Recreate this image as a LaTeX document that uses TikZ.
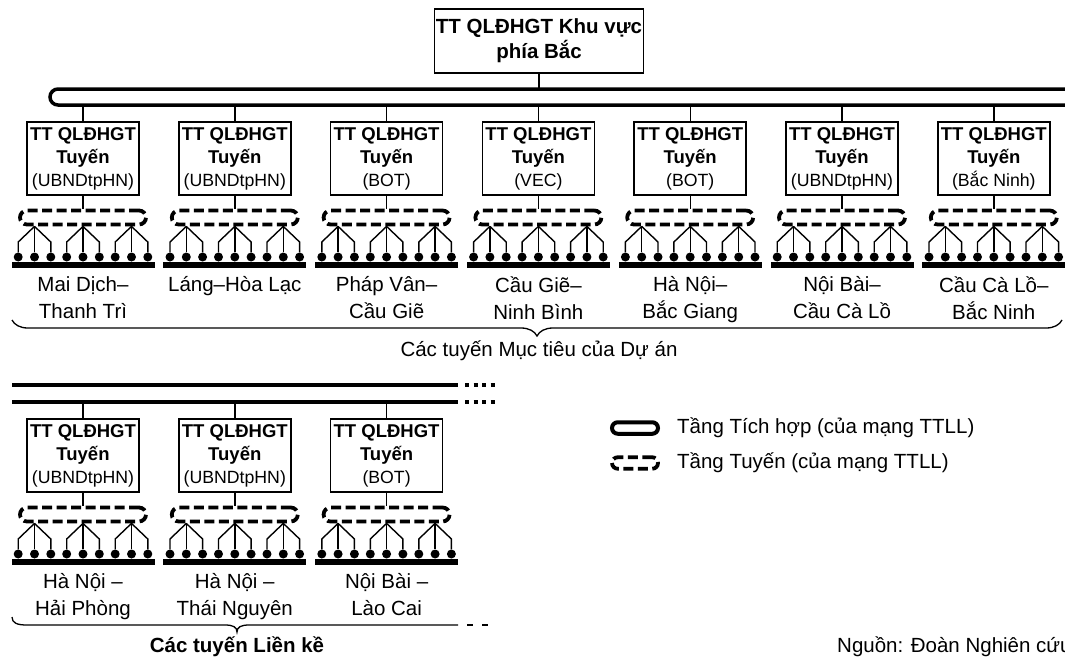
\documentclass[tikz,border=0pt]{standalone}
\usepackage{fontspec}
\setmainfont{Liberation Sans}
\usetikzlibrary{positioning,decorations.pathreplacing}

\begin{document}
\begin{tikzpicture}[
    x=1pt,y=-1pt,
    node distance=17pt,
    hub/.style={draw,line width=1.5pt,minimum width=209pt,minimum height=64pt,inner sep=0pt,align=center,font=\fontsize{20.5}{25}\selectfont\bfseries},
    ctr/.style={draw,line width=1.5pt,minimum width=112pt,minimum height=73pt,inner sep=0pt,align=center,font=\fontsize{18.5}{23}\selectfont},
    layer/.style={draw,dash pattern=on 10pt off 4.5pt,line width=3.8pt,rounded corners=7pt,minimum width=126pt,minimum height=14pt,inner sep=0pt},
    pill/.style={draw,line width=4pt,rounded corners=5.75pt,minimum width=46pt,minimum height=11.5pt,inner sep=0pt},
    dot/.style={circle,fill,inner sep=0pt,minimum size=9pt},
    bar/.style={fill,inner sep=0pt,minimum width=143pt,minimum height=6pt},
    wire/.style={line width=1.4pt},
    bus/.style={line width=3.5pt},
    lbl/.style={align=center,inner sep=0pt,font=\fontsize{20.5}{27}\selectfont},
    brc/.style={line width=1.3pt}
]
\useasboundingbox (0,0) rectangle (1065,657);

% khu vuc phia Bac
\node[hub] (hub) at (539,41) {TT QLĐHGT Khu vực\\phía Bắc};
\coordinate (busA) at (0,89);
\coordinate (busB) at (0,105);
\coordinate (busC) at (0,385);
\coordinate (busD) at (0,402);
\draw[bus] (1070,89) -- (58,89) arc[start angle=270,end angle=90,radius=8] -- (1070,105);
\draw[wire] (hub) -- (hub |- busA);

% tuyen lien ke
\draw[bus] (12,385) -- (458,385);
\draw[bus] (12,402) -- (458,402);
\draw[bus,dash pattern=on 4pt off 4.5pt] (465,385) -- (495,385);
\draw[bus,dash pattern=on 4pt off 4.5pt] (465,402) -- (495,402);

% cac tuyen
\foreach \n/\x/\dy/\bus/\who/\name in {
    1/83/0/busB/UBNDtpHN/{Mai Dịch–\\Thanh Trì},
    2/234.8/0/busB/UBNDtpHN/{Láng–Hòa Lạc},
    3/386.6/0/busB/BOT/{Pháp Vân–\\Cầu Giẽ},
    4/538.4/0/busB/VEC/{Cầu Giẽ–\\Ninh Bình},
    5/690.2/0/busB/BOT/{Hà Nội–\\Bắc Giang},
    6/842/0/busB/UBNDtpHN/{Nội Bài–\\Cầu Cà Lồ},
    7/993.8/0/busB/Bắc Ninh/{Cầu Cà Lồ–\\Bắc Ninh},
    8/83/297/busD/UBNDtpHN/{Hà Nội –\\Hải Phòng},
    9/234.8/297/busD/UBNDtpHN/{Hà Nội –\\Thái Nguyên},
    10/386.6/297/busD/BOT/{Nội Bài –\\Lào Cai}} {
  \node[ctr] (c\n) at (\x,158.5+\dy) {\textbf{TT QLĐHGT}\\\textbf{Tuyến}\\{\fontsize{17.7}{23}\selectfont(\who)}};
  \node[layer] (l\n) at (\x,217.5+\dy) {};
  \node[bar] (r\n) at (\x,265+\dy) {};
  \draw[wire] (c\n.north) -- (c\n.north |- \bus);
  \draw[wire] (c\n) -- (l\n);
  \foreach \k in {1,2,3} {
    \coordinate (a\n-\k) at ([xshift={(\k-2)*48.5pt}]l\n.south);
    \foreach \j in {1,2,3} {
      \node[dot] (d\n-\k\j) at (\x+48.5*\k-97+16.3*\j-32.6,257+\dy) {};
      \draw[wire] (a\n-\k) -- ([yshift=15pt]d\n-\k\j.center) -- (d\n-\k\j);
    }
  }
  \node[lbl,anchor=north] (t\n) at ([yshift=-8pt]r\n.south) {\name};
}

% ngoac
\draw[brc,decorate,decoration={brace,mirror,amplitude=16pt}] (12,320) -- (1062,320);
\node[lbl] (mt) at (539,351) {Các tuyến Mục tiêu của Dự án};
\draw[brc] (12,617) .. controls (12,623) and (17,625) .. (27,625) -- (225,625)
  .. controls (233,625) and (237,627) .. (237,632)
  .. controls (237,627) and (241,625) .. (249,625) -- (458,625);
\draw[brc,dash pattern=on 6pt off 9pt] (467,625) -- (492,625);
\node[lbl,font=\fontsize{20.5}{27}\selectfont\bfseries] (lk) at (237,647) {Các tuyến Liền kề};

% chu giai
\node[pill] (k1) at (635,428) {};
\node[lbl,right=of k1] (k1t) {Tầng Tích hợp (của mạng TTLL)};
\node[layer,minimum width=46pt,minimum height=11.5pt,rounded corners=5.75pt] (k2) at (635,463) {};
\node[lbl,right=of k2] (k2t) {Tầng Tuyến (của mạng TTLL)};

\node[lbl,anchor=west] (src) at (837,647) {Nguồn: Đoàn Nghiên cứu};
\end{tikzpicture}
\end{document}
